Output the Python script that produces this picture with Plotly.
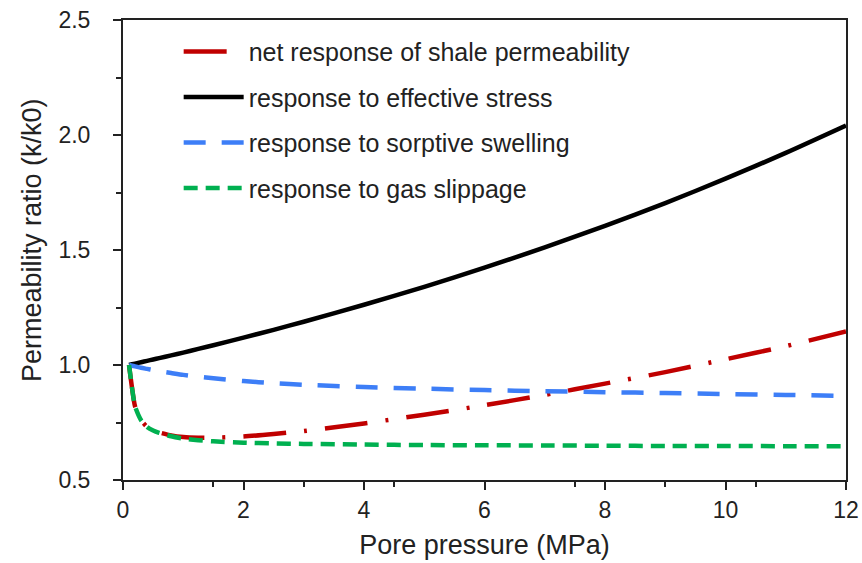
import plotly.graph_objects as go

# Pore pressure (MPa)
pressure = [0.1, 0.15, 0.2, 0.3, 0.4, 0.5, 0.6, 0.8, 1.0, 1.25, 1.5, 2, 2.5, 3,
            4, 5, 6, 7, 8, 9, 10, 11, 12]

# Permeability ratio k/k0
net_response = [1.000, 0.900, 0.820, 0.760, 0.731, 0.716, 0.707, 0.694, 0.687, 0.684,
                0.684, 0.689, 0.700, 0.713, 0.746, 0.784, 0.825, 0.870, 0.919, 0.969,
                1.025, 1.082, 1.146]
effective_stress = [1.000, 1.003, 1.006, 1.012, 1.018, 1.024, 1.030, 1.042, 1.054, 1.070,
                    1.086, 1.119, 1.153, 1.188, 1.262, 1.340, 1.423, 1.511, 1.605, 1.704,
                    1.810, 1.922, 2.041]
sorptive_swelling = [1.000, 0.997, 0.994, 0.988, 0.983, 0.978, 0.973, 0.965, 0.957, 0.949,
                     0.942, 0.930, 0.921, 0.914, 0.904, 0.897, 0.891, 0.886, 0.882, 0.878,
                     0.874, 0.870, 0.866]
gas_slippage = [1.000, 0.900, 0.820, 0.760, 0.730, 0.715, 0.705, 0.690, 0.680, 0.673,
                0.668, 0.662, 0.659, 0.657, 0.654, 0.652, 0.651, 0.650, 0.649, 0.648,
                0.648, 0.647, 0.647]

series_names = ["net response of shale permeability",
                "response to effective stress",
                "response to sorptive swelling",
                "response to gas slippage"]

x_ticks = [0, 2, 4, 6, 8, 10, 12]
y_ticks = [0.5, 1.0, 1.5, 2.0, 2.5]
y_tick_text = ["0.5", "1.0", "1.5", "2.0", "2.5"]

FONT = "Liberation Sans, Arial, sans-serif"
TXT = "#222222"

fig = go.Figure()
styles = [
    (net_response, "#C00000", "43px,18px,3px,18px", 4.5),
    (effective_stress, "#000000", "solid", 4.5),
    (sorptive_swelling, "#3D7EF7", "22px,16px", 4.5),
    (gas_slippage, "#00B050", "14px,8px", 4.5),
]
for i, (vals, col, dash, w) in enumerate(styles):
    fig.add_trace(go.Scatter(
        x=pressure, y=vals, mode="lines", name=series_names[i],
        legendgroup=f"g{i}",
        line=dict(color=col, dash=dash, width=w, shape="spline", smoothing=0.6),
    ))

fig.update_layout(
    width=862, height=563,
    margin=dict(l=123, r=16, t=20, b=83),
    paper_bgcolor="white", plot_bgcolor="white",
    font=dict(family=FONT, color=TXT),
    legend=dict(
        x=0.077, y=0.981, xanchor="left", yanchor="top",
        bgcolor="rgba(0,0,0,0)", font=dict(size=25, family=FONT, color=TXT),
        itemwidth=60, tracegroupgap=10,
    ),
    xaxis=dict(
        range=[0, 12], tickvals=x_ticks, ticks="outside", ticklen=8, tickwidth=2,
        tickcolor=TXT, automargin=False,
        showline=True, linecolor=TXT, linewidth=2, mirror=True,
        showgrid=False, zeroline=False,
        tickfont=dict(size=23, family=FONT, color=TXT),
        minor=dict(dtick=1.5, tick0=0, ticks="outside", ticklen=5, tickwidth=2,
                   tickcolor=TXT, showgrid=False),
        title=dict(text="Pore pressure (MPa)", font=dict(size=27, family=FONT, color=TXT),
                   standoff=14),
    ),
    yaxis=dict(
        range=[0.5, 2.5], tickvals=y_ticks, ticktext=y_tick_text, ticks="outside",
        ticklen=8, tickwidth=2, tickcolor=TXT, automargin=False,
        showline=True, linecolor=TXT, linewidth=2, mirror=True,
        showgrid=False, zeroline=False,
        tickfont=dict(size=23, family=FONT, color=TXT),
        ticklabelstandoff=18,
        minor=dict(dtick=0.25, tick0=0.5, ticks="outside", ticklen=5, tickwidth=2,
                   tickcolor=TXT, showgrid=False),
    ),
    annotations=[dict(
        text="Permeability ratio (k/k0)", textangle=-90, showarrow=False,
        xref="paper", yref="paper", x=-(123 - 32) / 723, y=(480 - 240) / 460,
        xanchor="center", yanchor="middle",
        font=dict(size=27, family=FONT, color=TXT),
    )],
)

fig.write_html(
    "out.html",
    config={"displayModeBar": False},
    post_script="document.body.style.margin='0';document.body.style.overflow='hidden';",
)
